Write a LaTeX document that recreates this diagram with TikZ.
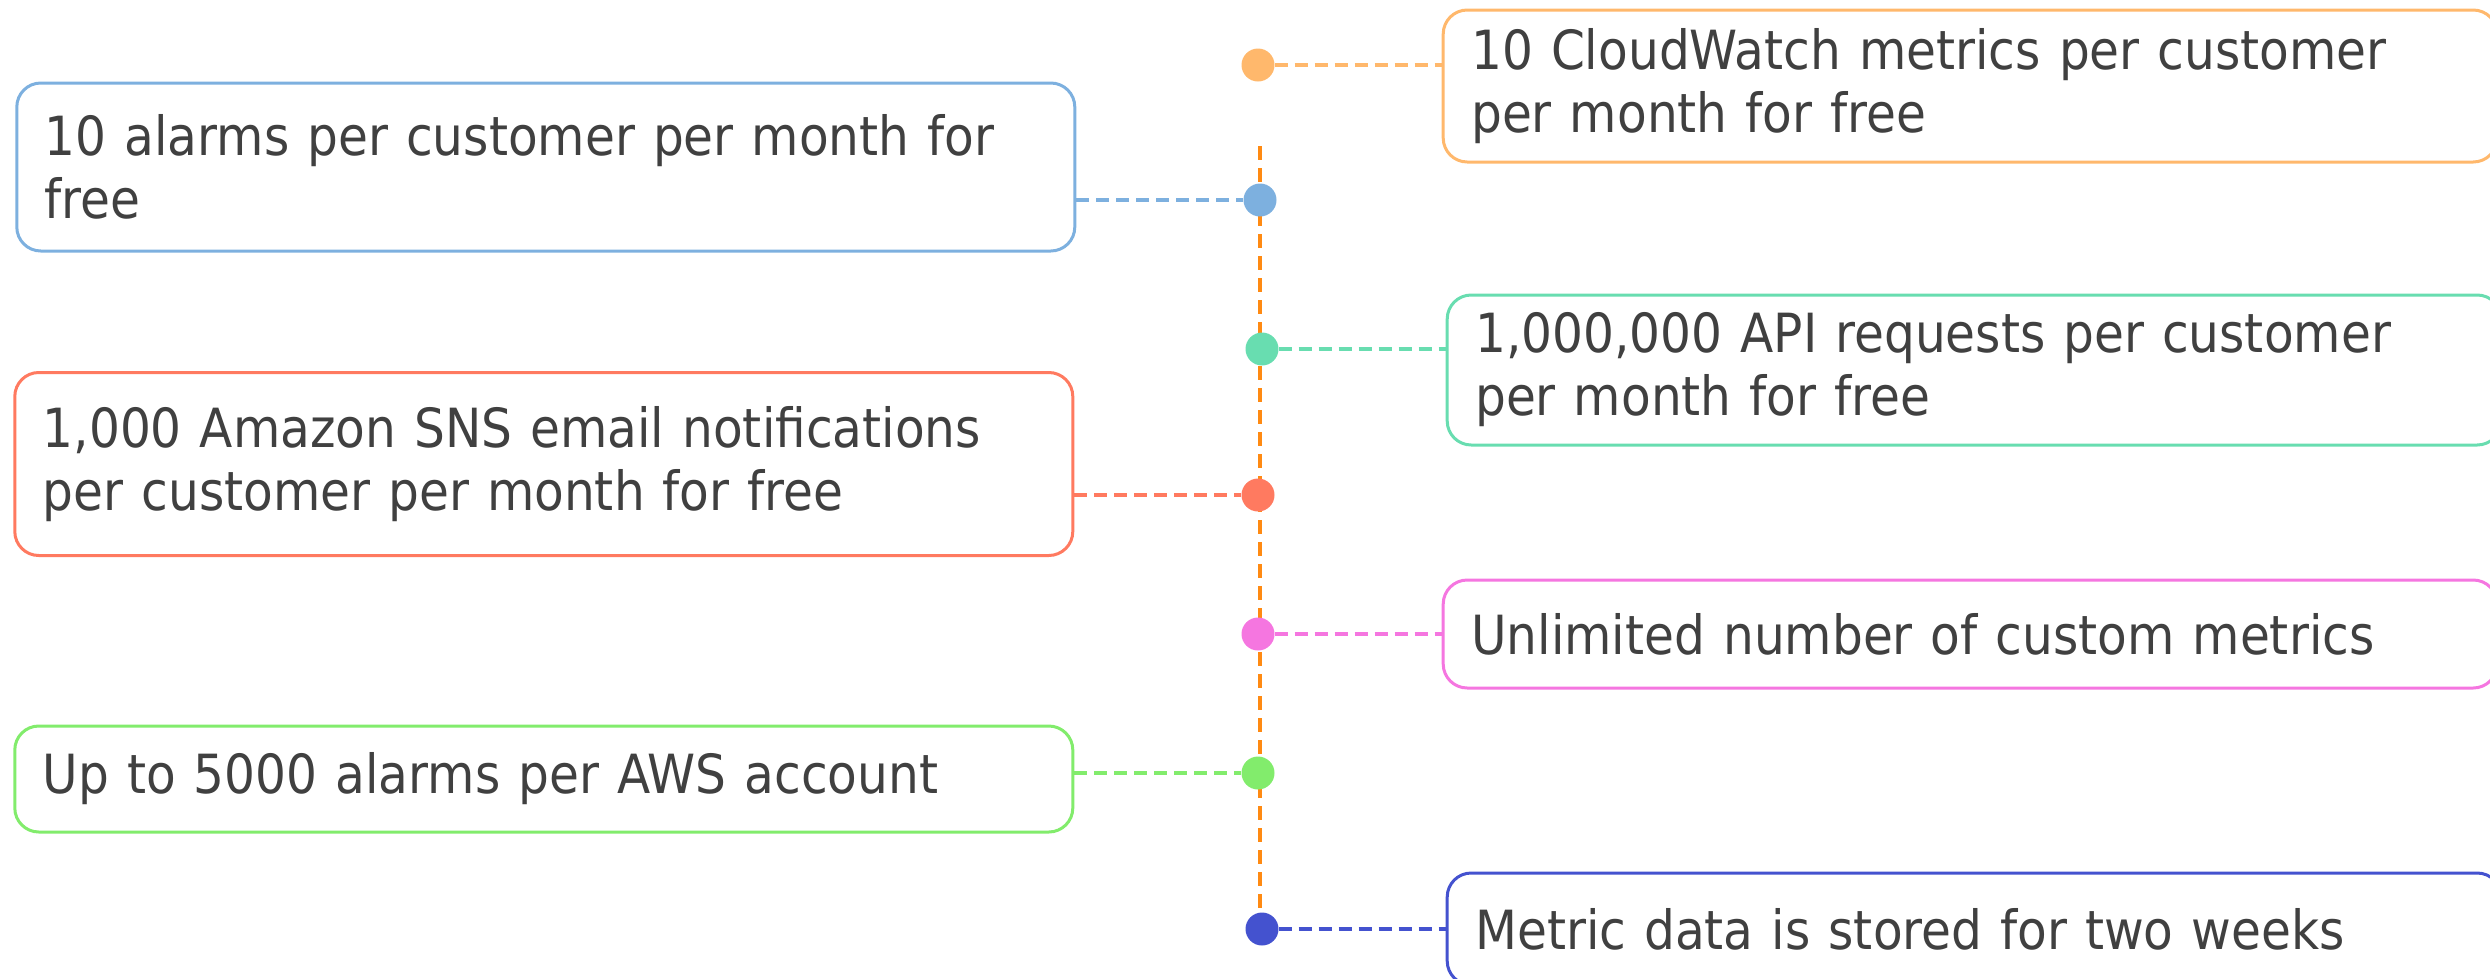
\documentclass[tikz,border=0pt]{standalone}
\usepackage{fontspec}
\setmainfont[FakeStretch=0.90]{DejaVu Sans}
\usetikzlibrary{positioning}
\definecolor{cwSpine}{HTML}{FF8A12}
\definecolor{cwOrange}{HTML}{FFB86C}
\definecolor{cwBlue}{HTML}{7DB0DF}
\definecolor{cwTeal}{HTML}{68DDB0}
\definecolor{cwRed}{HTML}{FF7A60}
\definecolor{cwPink}{HTML}{F576E0}
\definecolor{cwGreen}{HTML}{82EC6C}
\definecolor{cwNavy}{HTML}{4452CF}
\definecolor{cwText}{HTML}{404040}

\begin{document}
\begin{tikzpicture}[x=1pt, y=-1pt,
  node distance=167pt,
  dot/.style={circle, inner sep=0pt, minimum size=33pt},
  note/.style={rectangle, rounded corners=24pt, line width=3pt, fill=white, text=cwText, align=left, inner xsep=28pt, font=\fontsize{54}{63}\selectfont},
  lnote/.style={note, minimum width=1058pt, text width=1002pt},
  rnote/.style={note, minimum width=1054pt, text width=998pt},
  link/.style={line width=4pt, dash pattern=on 13pt off 7pt},
  spine/.style={cwSpine, line width=3.5pt, dash pattern=on 14pt off 8pt}]
  \useasboundingbox (0,0) rectangle (2490,978);
  \coordinate (top) at (1260,146);
  \coordinate (bot) at (1260,929);
  \draw[spine](top)--(bot);
  \node[dot, fill=cwOrange](dA) at (1258,65){};
  \node[dot, fill=cwBlue](dB) at (1260,200){};
  \node[dot, fill=cwTeal](dC) at (1262,349){};
  \node[dot, fill=cwRed](dD) at (1258,495){};
  \node[dot, fill=cwPink](dE) at (1258,634){};
  \node[dot, fill=cwGreen](dF) at (1258,773){};
  \node[dot, fill=cwNavy](dG) at (1262,929){};
  % left side
  \node[lnote, draw=cwBlue, minimum height=168pt, left=of dB, yshift=33pt](nB){10 alarms per customer per month for\\free};
  \node[lnote, draw=cwRed, minimum height=183pt, left=of dD, yshift=31pt](nD){1,000 Amazon SNS email notifications\\per customer per month for free};
  \node[lnote, draw=cwGreen, minimum height=106pt, left=of dF, yshift=-6pt](nF){Up to 5000 alarms per AWS account};
  % right side
  \node[rnote, draw=cwOrange, minimum height=152pt, right=of dA, yshift=-21pt](nA){10 CloudWatch metrics per customer\\per month for free};
  \node[rnote, draw=cwTeal, minimum height=150pt, right=of dC, yshift=-21pt](nC){1,000,000 API requests per customer\\per month for free};
  \node[rnote, draw=cwPink, minimum height=108pt, right=of dE](nE){Unlimited number of custom metrics};
  \node[rnote, draw=cwNavy, minimum height=112pt, right=of dG](nG){Metric data is stored for two weeks};
  \draw[link, cwOrange](dA)--(dA -| nA.west);
  \draw[link, cwBlue](dB -| nB.east)--(dB);
  \draw[link, cwTeal](dC)--(dC -| nC.west);
  \draw[link, cwRed](dD -| nD.east)--(dD);
  \draw[link, cwPink](dE)--(dE -| nE.west);
  \draw[link, cwGreen](dF -| nF.east)--(dF);
  \draw[link, cwNavy](dG)--(dG -| nG.west);
\end{tikzpicture}
\end{document}
